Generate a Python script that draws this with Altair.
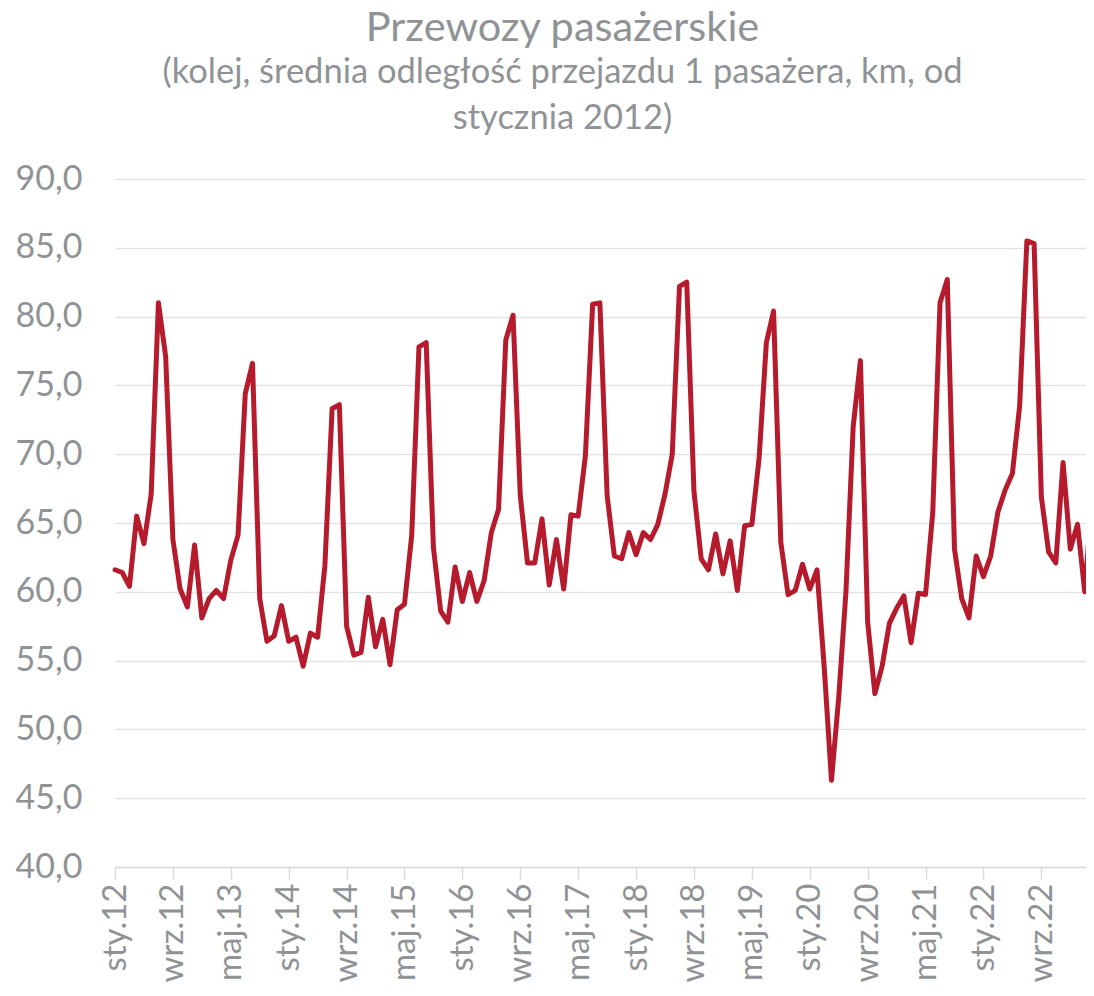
import altair as alt
import pandas as pd

# Polish month abbreviations used for category labels
months_pl = ["sty", "lut", "mar", "kwi", "maj", "cze", "lip", "sie", "wrz", "paź", "lis", "gru"]
start_year = 2012

# Average distance travelled per rail passenger (km), monthly from Jan 2012
values = [
    61.6, 61.4, 60.4, 65.5, 63.5, 67.1, 81.0, 77.1, 63.8, 60.2, 58.9, 63.4,
    58.1, 59.5, 60.1, 59.5, 62.3, 64.1, 74.4, 76.6, 59.5, 56.4, 56.8, 59.0,
    56.4, 56.7, 54.6, 57.0, 56.7, 61.9, 73.3, 73.6, 57.5, 55.4, 55.6, 59.6,
    56.0, 58.0, 54.7, 58.7, 59.1, 64.1, 77.8, 78.1, 63.2, 58.6, 57.8, 61.8,
    59.3, 61.4, 59.3, 60.8, 64.3, 66.0, 78.3, 80.1, 67.0, 62.1, 62.1, 65.3,
    60.5, 63.8, 60.2, 65.6, 65.5, 69.9, 80.9, 81.0, 67.0, 62.6, 62.4, 64.3,
    62.7, 64.3, 63.8, 64.9, 67.1, 70.0, 82.2, 82.5, 67.3, 62.4, 61.6, 64.2,
    61.3, 63.7, 60.1, 64.8, 64.9, 69.7, 78.1, 80.4, 63.6, 59.8, 60.1, 62.0,
    60.2, 61.6, 54.5, 46.3, 52.3, 60.0, 72.0, 76.8, 57.8, 52.6, 54.6, 57.7,
    58.8, 59.7, 56.3, 59.9, 59.8, 65.8, 81.0, 82.7, 63.1, 59.5, 58.1, 62.6,
    61.1, 62.6, 65.8, 67.4, 68.6, 73.5, 85.5, 85.3, 66.9, 62.9, 62.1, 69.4,
    63.1, 64.9, 60.0, 66.9,
]

tick_labels = [
    "sty.12", "wrz.12", "maj.13", "sty.14", "wrz.14", "maj.15", "sty.16",
    "wrz.16", "maj.17", "sty.18", "wrz.18", "maj.19", "sty.20", "wrz.20",
    "maj.21", "sty.22", "wrz.22",
]
y_ticks = [40, 45, 50, 55, 60, 65, 70, 75, 80, 85, 90]

labels = [f"{months_pl[i % 12]}.{(start_year + i // 12) % 100:02d}" for i in range(len(values))]
df = pd.DataFrame({"miesiac": labels, "wartosc": values})

gray = "#8f9396"
font = "Lato"

chart = (
    alt.Chart(df)
    .mark_line(color="#B51B2C", strokeWidth=5, strokeJoin="round", strokeCap="round")
    .encode(
        x=alt.X(
            "miesiac:N",
            sort=None,
            scale=alt.Scale(type="point", padding=0, range=[0, 977]),
            axis=alt.Axis(
                values=tick_labels,
                title=None,
                labelAngle=270,
                labelAlign="right",
                labelBaseline="middle",
                labelFont=font,
                labelFontSize=33,
                labelColor=gray,
                labelPadding=4,
                labelOverlap=False,
                tickSize=12,
                tickColor="#d9d9d9",
                tickWidth=1.5,
                domainColor="#d9d9d9",
                domainWidth=1.5,
                grid=False,
            ),
        ),
        y=alt.Y(
            "wartosc:Q",
            scale=alt.Scale(domain=[40, 90], nice=False, zero=False),
            axis=alt.Axis(
                values=y_ticks,
                title=None,
                labelExpr="replace(format(datum.value, '.1f'), '.', ',')",
                labelFont=font,
                labelFontSize=34,
                labelColor=gray,
                labelPadding=33,
                ticks=False,
                tickSize=0,
                domain=False,
                gridColor="#e3e3e3",
                gridWidth=1.5,
            ),
        ),
    )
    .properties(
        width=971,
        height=688,
        autosize=alt.AutoSizeParams(type="none"),
        padding={"left": 107, "top": 171, "right": 0, "bottom": 116},
        title=alt.TitleParams(
            text="Przewozy pasażerskie",
            subtitle=["(kolej, średnia odległość przejazdu 1 pasażera, km, od", "stycznia 2012)"],
            font=font,
            fontSize=41.5,
            fontWeight="normal",
            color=gray,
            subtitleFont=font,
            subtitleFontSize=34.5,
            subtitleColor=gray,
            subtitleLineHeight=46,
            subtitlePadding=6,
            anchor="middle",
            dx=-38,
            offset=27,
        ),
    )
    .configure_view(stroke=None)
)

chart.save("out.html", embed_options={"renderer": "svg", "actions": False})
